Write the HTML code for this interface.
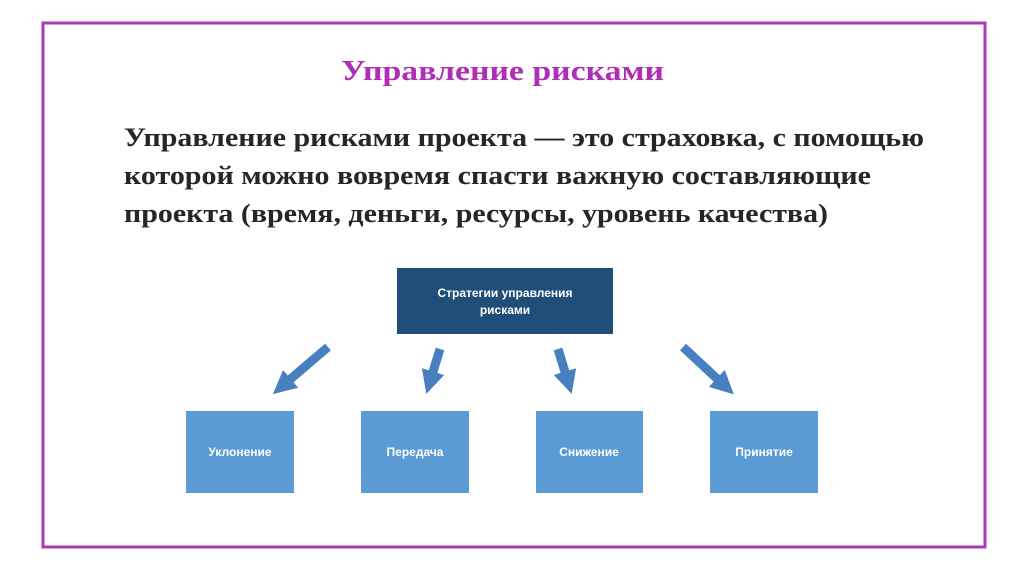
<!DOCTYPE html>
<html><head><meta charset="utf-8"><style>
html,body{margin:0;padding:0;background:#fff;}
svg{display:block;}
</style></head><body>
<svg width="1024" height="574" viewBox="0 0 1024 574" xmlns="http://www.w3.org/2000/svg">
<rect x="0" y="0" width="1024" height="574" fill="#fff"/>
<rect x="43" y="23" width="942" height="524" fill="none" stroke="#a93bb5" stroke-width="3"/>
<text x="341" y="80" font-family="Liberation Serif, serif" font-weight="bold" font-size="29" fill="#b02db5" textLength="323" lengthAdjust="spacingAndGlyphs">Управление рисками</text>
<g font-family="Liberation Serif, serif" font-weight="bold" font-size="26" fill="#262626">
<text x="124" y="146" textLength="800" lengthAdjust="spacingAndGlyphs">Управление рисками проекта — это страховка, с помощью</text>
<text x="124" y="184" textLength="747" lengthAdjust="spacingAndGlyphs">которой можно вовремя спасти важную составляющие</text>
<text x="124" y="222" textLength="704" lengthAdjust="spacingAndGlyphs">проекта (время, деньги, ресурсы, уровень качества)</text>
</g>
<rect x="397" y="268" width="216" height="66" fill="#1f4e79"/>
<g font-family="Liberation Sans, sans-serif" font-weight="bold" font-size="12" fill="#fff" text-anchor="middle">
<text x="505" y="297">Стратегии управления</text>
<text x="505" y="314">рисками</text>
</g>
<g fill="#5b9bd5">
<rect x="186" y="411" width="108" height="82"/>
<rect x="361" y="411" width="108" height="82"/>
<rect x="536" y="411" width="107" height="82"/>
<rect x="710" y="411" width="108" height="82"/>
</g>
<g font-family="Liberation Sans, sans-serif" font-weight="bold" font-size="12" fill="#fff" text-anchor="middle">
<text x="240" y="456">Уклонение</text>
<text x="415" y="456">Передача</text>
<text x="589" y="456">Снижение</text>
<text x="764" y="456">Принятие</text>
</g>
<defs><marker id="a" viewBox="0 0 10 10" refX="6" refY="5" markerWidth="2.6" markerHeight="2.6" orient="auto"><path d="M0,0L10,5L0,10z" fill="#4a7fbf"/></marker></defs>
<g stroke="#4a7fbf" stroke-width="9" marker-end="url(#a)">
<line x1="328" y1="347" x2="280" y2="388"/>
<line x1="440" y1="349" x2="429" y2="385"/>
<line x1="558" y1="349" x2="569" y2="385"/>
<line x1="683" y1="347" x2="727" y2="388"/>
</g>
</svg>
</body></html>
